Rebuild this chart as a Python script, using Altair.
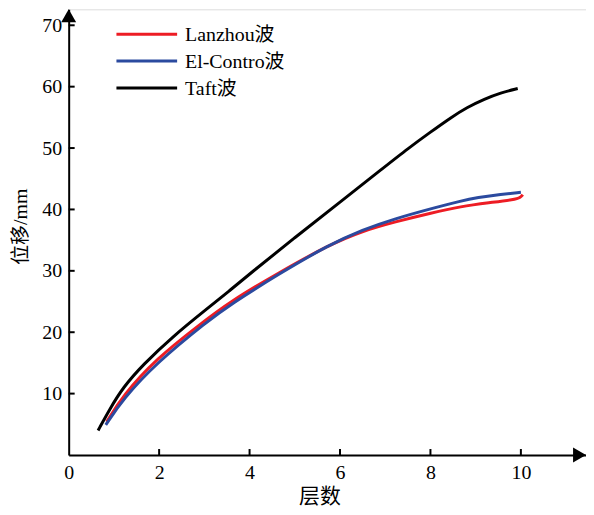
import altair as alt
import pandas as pd

# ---- data ----
series_names = ["Lanzhou波", "El-Contro波", "Taft波"]
series_colors = ["#ed1c24", "#2b4a9f", "#000000"]

lanzhou_x = [0.84, 1.2, 1.94, 2.89, 3.57, 4.67, 5.75, 6.5, 7.22, 8.0, 8.68, 9.3, 9.86, 10.0, 10.04]
lanzhou_y = [5.4, 9.7, 15.7, 21.2, 25.0, 29.8, 34.2, 36.5, 38.0, 39.4, 40.5, 41.1, 41.6, 42.0, 42.4]

elcentro_x = [0.82, 1.2, 1.94, 3.07, 3.57, 4.67, 5.75, 6.5, 7.22, 8.0, 8.68, 9.05, 9.5, 10.0]
elcentro_y = [4.9, 9.1, 15.0, 21.8, 24.5, 29.6, 34.2, 36.7, 38.5, 40.1, 41.4, 41.95, 42.4, 42.8]

taft_x = [0.65, 0.91, 1.2, 1.64, 2.3, 3.07, 3.55, 4.0, 5.0, 6.0, 7.0, 7.5, 8.0, 8.46, 8.8, 9.2, 9.55, 9.93]
taft_y = [4.0, 7.5, 11.0, 14.7, 19.3, 23.9, 26.7, 29.5, 35.4, 41.2, 47.0, 49.9, 52.6, 55.0, 56.6, 58.0, 59.0, 59.7]

x_ticks = [0, 2, 4, 6, 8, 10]
y_ticks = [10, 20, 30, 40, 50, 60, 70]
x_max = 11.44
y_max = 72.6

W, H = 520, 448
FONT = "Liberation Serif, Times New Roman, Noto Sans CJK SC"

rows = []
for name, xs, ys in [(series_names[0], lanzhou_x, lanzhou_y),
                     (series_names[1], elcentro_x, elcentro_y),
                     (series_names[2], taft_x, taft_y)]:
    for i, (a, b) in enumerate(zip(xs, ys)):
        rows.append({"series": name, "x": a, "y": b, "i": i})
df = pd.DataFrame(rows)

xscale = alt.Scale(domain=[0, x_max], nice=False, zero=False)
yscale = alt.Scale(domain=[0, y_max], nice=False, zero=False)
cscale = alt.Scale(domain=series_names, range=series_colors)

lines = alt.Chart(df).mark_line(strokeWidth=3, interpolate="basis").encode(
    x=alt.X("x:Q", scale=xscale, axis=alt.Axis(
        values=x_ticks, title="层数", ticks=False, tickSize=0,
        domainColor="black", domainWidth=2, labelFont=FONT, labelFontSize=20,
        labelColor="black", labelPadding=8, grid=False, labelFlush=False,
        titleFont=FONT, titleFontSize=21, titleFontWeight="normal", titleColor="black",
        titleX=252, titleY=42, titleBaseline="middle", titleAnchor="middle", titleAlign="center")),
    y=alt.Y("y:Q", scale=yscale, axis=alt.Axis(
        values=y_ticks, title="位移/mm", ticks=False, tickSize=0,
        domainColor="black", domainWidth=2, labelFont=FONT, labelFontSize=20,
        labelColor="black", labelPadding=7, grid=False, labelFlush=False,
        titleFont=FONT, titleFontSize=20, titleFontWeight="normal", titleColor="black",
        titleX=-48, titleY=218, titleBaseline="middle", titleAlign="center", titleAngle=-90)),
    color=alt.Color("series:N", scale=cscale, legend=None),
    order="i:Q",
    detail="series:N",
)

xt = alt.Chart(pd.DataFrame({"t": [v for v in x_ticks if v != 0]})).mark_rule(
    color="black", strokeWidth=2).encode(
    x=alt.X("t:Q", scale=xscale), y=alt.value(H), y2=alt.value(H - 6))

yt = alt.Chart(pd.DataFrame({"t": y_ticks})).mark_rule(
    color="black", strokeWidth=2).encode(
    y=alt.Y("t:Q", scale=yscale), x=alt.value(0), x2=alt.value(6))

one = pd.DataFrame({"a": [0]})
arrow_up = alt.Chart(one).mark_point(shape="triangle-up", filled=True, color="black",
                                     size=225, opacity=1).encode(
    x=alt.value(0), y=alt.value(6.5))
arrow_right = alt.Chart(one).mark_point(shape="triangle-right", filled=True, color="black",
                                        size=225, opacity=1).encode(
    x=alt.value(W - 6.5), y=alt.value(H))

legend_layers = []
for k, (name, col) in enumerate(zip(series_names, series_colors)):
    yy = 25 + 27 * k
    ld = pd.DataFrame({"series": [name]})
    legend_layers.append(alt.Chart(ld).mark_rule(color=col, strokeWidth=3).encode(
        x=alt.value(48), x2=alt.value(109), y=alt.value(yy)))
    legend_layers.append(alt.Chart(ld).mark_text(
        align="left", baseline="middle", font=FONT, fontSize=20, color="black").encode(
        x=alt.value(117), y=alt.value(yy + 1), text="series:N"))

chart = alt.layer(lines, xt, yt, arrow_up, arrow_right, *legend_layers).properties(
    width=W, height=H,
    autosize=alt.AutoSizeParams(type="none"),
    padding={"left": 61, "top": 0, "right": 0, "bottom": 60},
).configure_view(stroke=None).configure(background="white")

chart.save("out.html", embed_options={"renderer": "svg", "actions": False})
